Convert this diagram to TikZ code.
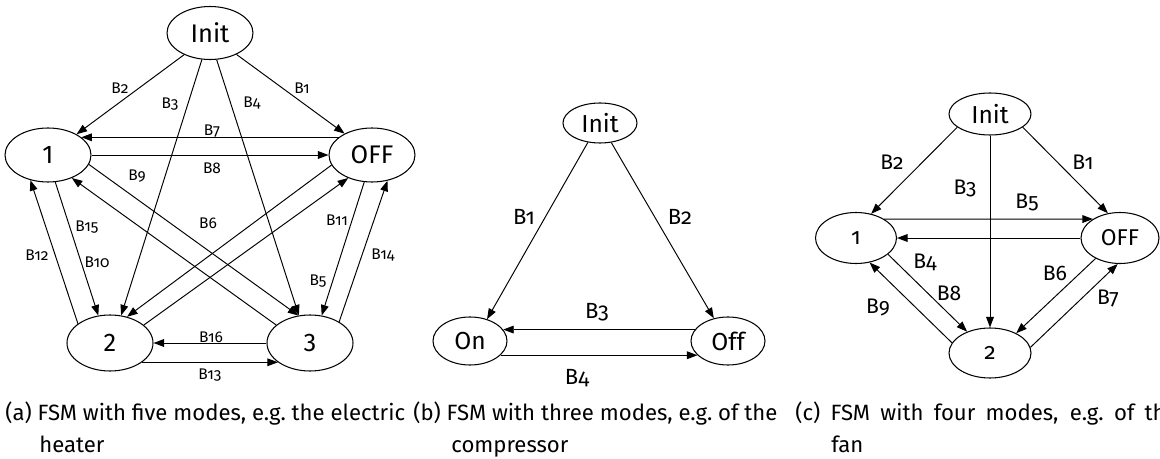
\documentclass[tikz,border=0pt]{standalone}
\usepackage{fontspec}
\setmainfont{Fira Sans}
\newfontfamily\oldfig[Numbers=OldStyle]{Fira Sans}
\usetikzlibrary{shapes.geometric,arrows.meta}

\def\px{0.02cm}

\begin{document}
\begin{tikzpicture}[x=0.02cm, y=-0.02cm,
  mode/.style 2 args={ellipse, draw, line width=0.6pt, inner sep=0pt,
    minimum width=#1*\px, minimum height=#2*\px},
  trans/.style={line width=0.55pt, -{Triangle[length=6pt,width=4.4pt]}},
  fa/.style={font=\fontsize{14.5}{17}\selectfont},
  fb/.style={font=\fontsize{14}{17}\selectfont},
  fc/.style={font=\oldfig\fontsize{13}{15}\selectfont},
  laba/.style={inner sep=0pt, font=\oldfig\fontsize{8.8}{10}\selectfont},
  labb/.style={inner sep=0pt, font=\oldfig\fontsize{12.5}{14}\selectfont},
  labc/.style={inner sep=0pt, font=\oldfig\fontsize{12}{14}\selectfont},
  capline/.style={inner sep=0pt, anchor=base west, font=\fontsize{12.6}{14}\selectfont}]

  \useasboundingbox (0,0) rectangle (1160,459);

  % =============================================
  % (a) five modes
  % =============================================
  \node[mode={86}{53}, fa] (init)  at (210,33)  {Init};
  \node[mode={86}{54}, fa] (one)   at (48,155)  {1};
  \node[mode={86}{54}, fa] (off)   at (372,155) {OFF};
  \node[mode={86}{56}, fa] (two)   at (110,343) {2};
  \node[mode={86}{56}, fa] (three) at (310,343) {3};

  \draw[trans] (init.-140) -- (one.36);
  \draw[trans] (init.-39)  -- (off.142);
  \draw[trans] (init.-107) -- (two.68);
  \draw[trans] (init.-76)  -- (three.112);
  \draw[trans] (off.152)   -- (one.28);
  \draw[trans] (one)       -- (off);
  \draw[trans] (one.-13)   -- (three.113);
  \draw[trans] (three.152) -- (one.-44);
  \draw[trans] (off.194)   -- (two.57);
  \draw[trans] (two.28)    -- (off.-136);
  \draw[trans] (off.-106)  -- (three.67);
  \draw[trans] (three.36)  -- (off.-59);
  \draw[trans] (one.-75)   -- (two.113);
  \draw[trans] (two.149)   -- (one.-125);
  \draw[trans] (three)     -- (two);
  \draw[trans] (two.-31)   -- (three.211);

  \node[laba] (a1)  at (302,88)  {B1};
  \node[laba] (a2)  at (120,88)  {B2};
  \node[laba] (a3)  at (170,104) {B3};
  \node[laba] (a4)  at (252,103) {B4};
  \node[laba] (a5)  at (318,281) {B5};
  \node[laba] (a6)  at (208,223) {B6};
  \node[laba] (a7)  at (212,131) {B7};
  \node[laba] (a8)  at (212,168) {B8};
  \node[laba] (a9)  at (137,176) {B9};
  \node[laba] (a10) at (97,262)  {B10};
  \node[laba] (a11) at (337,220) {B11};
  \node[laba] (a12) at (37,255)  {B12};
  \node[laba] (a13) at (210,375) {B13};
  \node[laba] (a14) at (383,255) {B14};
  \node[laba] (a15) at (87,227)  {B15};
  \node[laba] (a16) at (211,337) {B16};

  % =============================================
  % (b) three modes
  % =============================================
  \node[mode={74}{40}, fb] (binit) at (600,123) {Init};
  \node[mode={74}{48}, fb] (on)    at (470,341) {On};
  \node[mode={74}{48}, fb] (boff)  at (728,341) {Off};

  \draw[trans] (binit.-122) -- (on.52);
  \draw[trans] (binit.-60)  -- (boff.122);
  \draw[trans] (boff.161)   -- (on.19);
  \draw[trans] (on.-25)     -- (boff.-155);

  \node[labb] (b1) at (524,217) {B1};
  \node[labb] (b2) at (680,217) {B2};
  \node[labb] (b3) at (597,312) {B3};
  \node[labb] (b4) at (577,378) {B4};

  % =============================================
  % (c) four modes
  % =============================================
  \node[mode={82}{42}, fb] (cinit) at (990,114)  {Init};
  \node[mode={81}{51}, fc] (cone)  at (856,238)  {1};
  \node[mode={78}{51}, fc] (coff)  at (1120,238) {OFF};
  \node[mode={82}{50}, fc] (ctwo)  at (990,353)  {2};

  \draw[trans] (cinit.-158) -- (cone.58);
  \draw[trans] (cinit.-22)  -- (coff.116);
  \draw[trans] (cinit)      -- (ctwo);
  \draw[trans] (cone.34)    -- (coff.145);
  \draw[trans] (coff)       -- (cone);
  \draw[trans] (cone.-27)   -- (ctwo.137);
  \draw[trans] (ctwo.165)   -- (cone.-61);
  \draw[trans] (coff.-140)  -- (ctwo.37);
  \draw[trans] (ctwo.8)     -- (coff.-95);

  \node[labc] (c1) at (1083,162) {B1};
  \node[labc] (c2) at (892,162)  {B2};
  \node[labc] (c3) at (965,188)  {B3};
  \node[labc] (c4) at (925,262)  {B4};
  \node[labc] (c5) at (1027,202) {B5};
  \node[labc] (c6) at (1055,273) {B6};
  \node[labc] (c7) at (1108,298) {B7};
  \node[labc] (c8) at (949,293)  {B8};
  \node[labc] (c9) at (878,307)  {B9};

  % =============================================
  % captions
  % =============================================
  \node[capline] (capa)  at (5,420)   {(a) FSM with five modes, e.g.\ the electric};
  \node[capline] (capa2) at (39,452)  {heater};
  \node[capline] (capb)  at (413,420) {(b) FSM with three modes, e.g.\ of the};
  \node[capline] (capb2) at (451,452) {compressor};
  \node[capline] (capc)  at (795,420) {\makebox[7.65cm][s]{(c) FSM with four modes, e.g.\ of the}};
  \node[capline] (capc2) at (831,452) {fan};

\end{tikzpicture}
\end{document}
